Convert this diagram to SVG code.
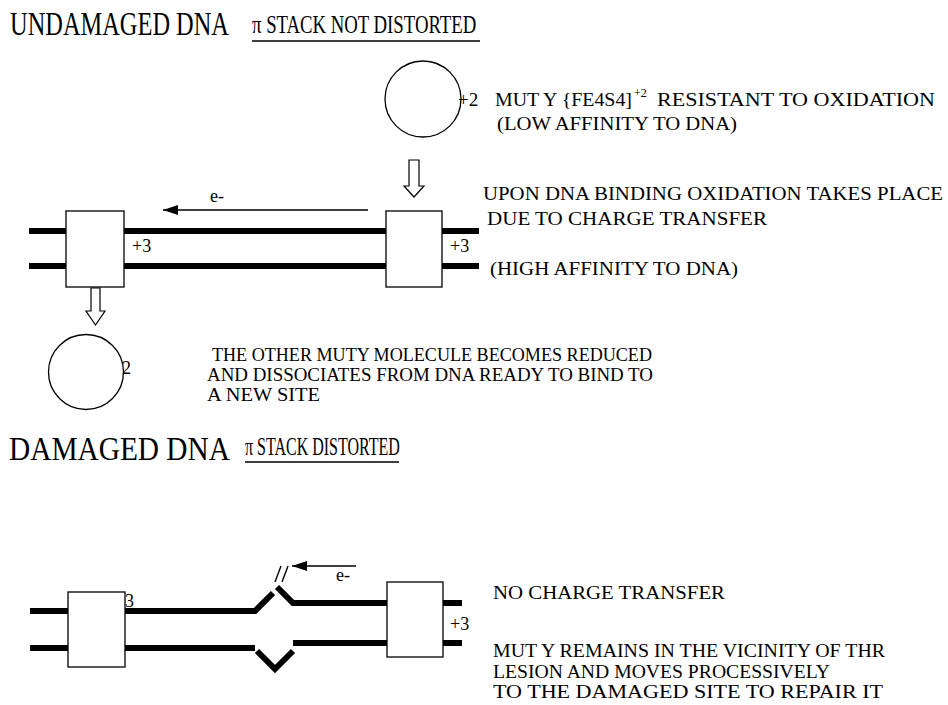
<svg xmlns="http://www.w3.org/2000/svg" width="948" height="705" viewBox="0 0 948 705">
<defs>
<style>
text{font-family:"Liberation Serif","Times New Roman",serif;fill:#000}
.t{font-size:33px}
.s{font-size:25px}
.b{font-size:19px}
.d{font-size:18px}
.box{fill:#fff;stroke:#000;stroke-width:1.3}
.circ{fill:none;stroke:#000;stroke-width:1.3}
.strand{fill:none;stroke:#000;stroke-width:6;stroke-linejoin:miter}
.hollow{fill:#fff;stroke:#000;stroke-width:1.2}
.arr{stroke:#000;stroke-width:1.6;fill:none}
</style>
<marker id="ah" markerWidth="16" markerHeight="10" refX="15" refY="5" orient="auto" markerUnits="userSpaceOnUse">
<path d="M0,0 L15,5 L0,10 Z" fill="#000"/>
</marker>
</defs>
<rect width="948" height="705" fill="#fff"/>

<g id="titles">
<text class="t" transform="translate(10,35) scale(0.74,1)">UNDAMAGED DNA</text>
<text class="s" transform="translate(252,33) scale(0.75,1)">π STACK NOT DISTORTED</text>
<line x1="252" y1="41" x2="480" y2="41" stroke="#000" stroke-width="1.5"/>
<text class="t" transform="translate(9,460) scale(0.89,1)">DAMAGED DNA</text>
<text class="s" transform="translate(245,455) scale(0.64,1)">π STACK DISTORTED</text>
<line x1="245" y1="462" x2="399" y2="462" stroke="#000" stroke-width="1.5"/>
</g>

<g id="strands">
<line class="strand" x1="29" y1="231" x2="479" y2="231"/>
<line class="strand" x1="29" y1="266" x2="479" y2="266"/>
<path class="strand" d="M30,611 H255 L273,593"/>
<path class="strand" d="M277,587 L293,603 H462"/>
<path class="strand" d="M30,648 H255"/>
<path class="strand" d="M257,651 L275,669 L293,651"/>
<path class="strand" d="M293,643 H462"/>
</g>

<g id="connectors">
<line class="arr" x1="368" y1="210" x2="163" y2="210" marker-end="url(#ah)"/>
<polygon id="arrow-bind" class="hollow" points="409,160 419,160 419,186 424,186 414,197 404,186 409,186"/>
<polygon id="arrow-release" class="hollow" points="91,288 100,288 100,311 105,311 95.5,325 86,311 91,311"/>
<line class="arr" x1="356" y1="566" x2="292" y2="566" marker-end="url(#ah)"/>
<line x1="275" y1="582" x2="281" y2="566" stroke="#000" stroke-width="1.4"/>
<line x1="282" y1="582" x2="288" y2="566" stroke="#000" stroke-width="1.4"/>
</g>

<g id="mutY-free">
<circle class="circ" cx="423" cy="99" r="38"/>
<text class="b" x="458" y="106">+2</text>
</g>
<g id="mutY-bound-left">
<rect class="box" x="66" y="211" width="58" height="76"/>
<text class="d" x="132" y="252">+3</text>
</g>
<g id="mutY-bound-right">
<rect class="box" x="386" y="211" width="56" height="76"/>
<text class="d" x="450" y="252">+3</text>
</g>
<g id="mutY-released">
<circle class="circ" cx="86" cy="372" r="37.5"/>
<text class="d" x="122" y="374">2</text>
</g>
<g id="mutY-damaged-left">
<rect class="box" x="68" y="592" width="57" height="75"/>
<text class="d" x="125" y="607">3</text>
</g>
<g id="mutY-damaged-right">
<rect class="box" x="387" y="582" width="56" height="75"/>
<text class="d" x="450" y="630">+3</text>
</g>

<g id="labels">
<text class="b" x="495" y="106" textLength="137" lengthAdjust="spacingAndGlyphs">MUT Y {FE4S4]</text>
<text x="634" y="97" style="font-size:12px">+2</text>
<text class="b" x="657" y="106" textLength="278" lengthAdjust="spacingAndGlyphs">RESISTANT TO OXIDATION</text>
<text class="b" x="497" y="130" textLength="240" lengthAdjust="spacingAndGlyphs">(LOW AFFINITY TO DNA)</text>
<text class="d" x="210" y="202">e-</text>
<text class="b" x="483" y="200" textLength="460" lengthAdjust="spacingAndGlyphs">UPON DNA BINDING OXIDATION TAKES PLACE</text>
<text class="b" x="487" y="225" textLength="280" lengthAdjust="spacingAndGlyphs">DUE TO CHARGE  TRANSFER</text>
<text class="b" x="490" y="275" textLength="248" lengthAdjust="spacingAndGlyphs">(HIGH AFFINITY TO DNA)</text>
<text class="b" x="212" y="361" textLength="440" lengthAdjust="spacingAndGlyphs">THE OTHER MUTY MOLECULE BECOMES REDUCED</text>
<text class="b" x="207" y="381" textLength="446" lengthAdjust="spacingAndGlyphs">AND DISSOCIATES FROM DNA READY TO BIND TO</text>
<text class="b" x="207" y="401" textLength="113" lengthAdjust="spacingAndGlyphs">A NEW SITE</text>
<text class="d" x="336" y="581">e-</text>
<text class="d" x="493" y="599" textLength="232" lengthAdjust="spacingAndGlyphs">NO CHARGE  TRANSFER</text>
<text class="d" x="493" y="657" textLength="392" lengthAdjust="spacingAndGlyphs">MUT Y REMAINS IN THE VICINITY OF THR</text>
<text class="d" x="493" y="678" textLength="337" lengthAdjust="spacingAndGlyphs">LESION AND MOVES PROCESSIVELY</text>
<text class="d" x="493" y="698" textLength="390" lengthAdjust="spacingAndGlyphs">TO THE DAMAGED SITE TO REPAIR IT</text>
</g>
</svg>
